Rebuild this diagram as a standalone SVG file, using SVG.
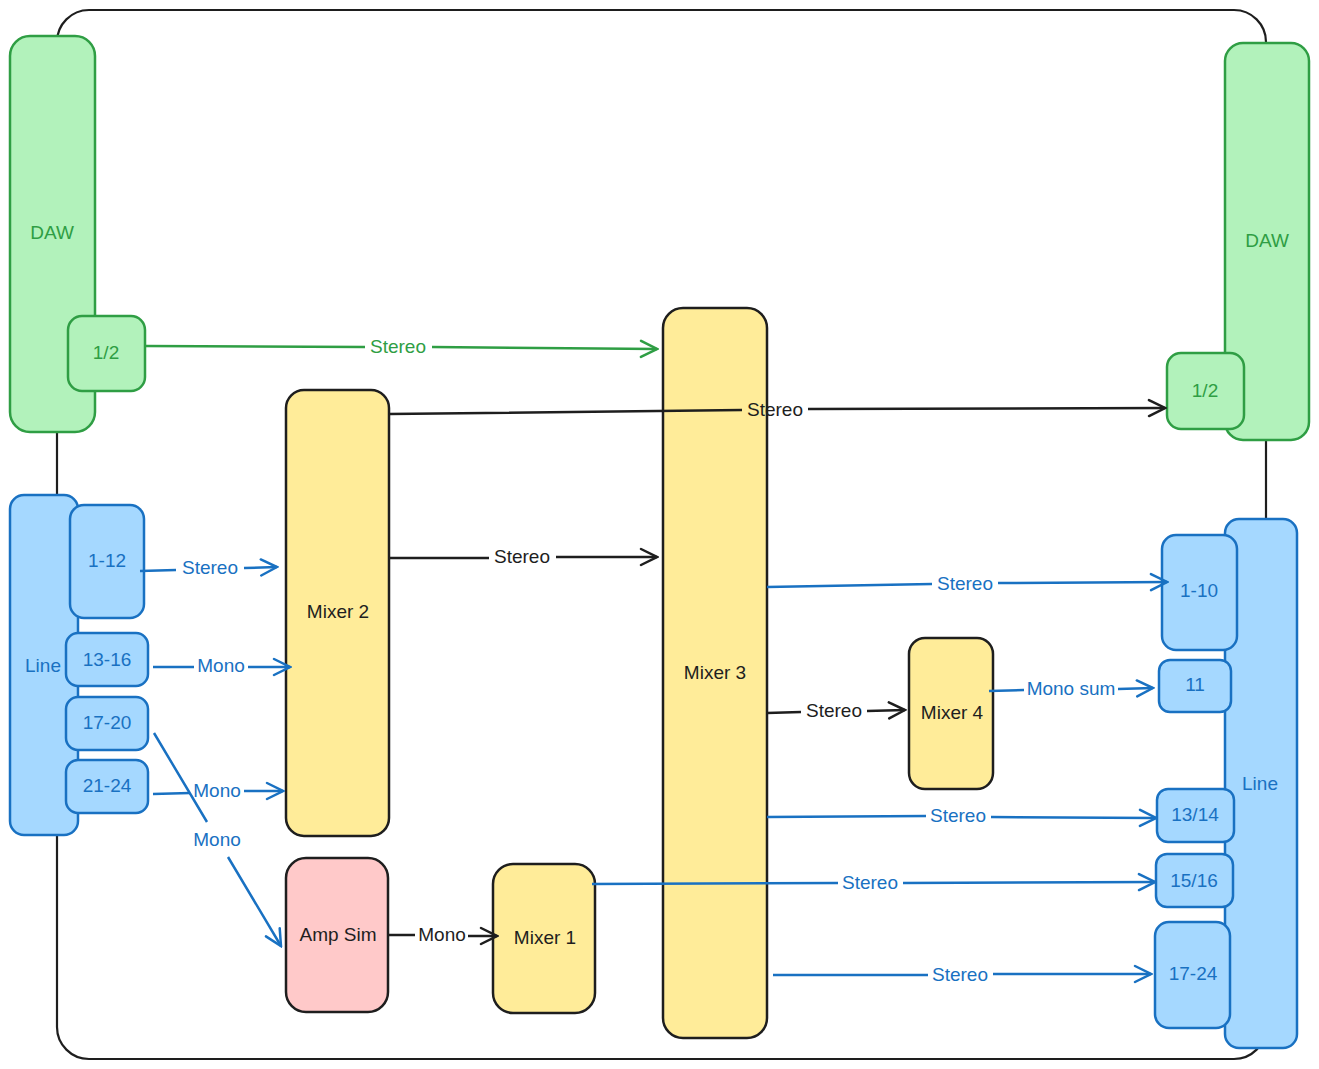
<svg xmlns="http://www.w3.org/2000/svg" width="1319" height="1069" viewBox="0 0 1319 1069">
<style>
text{font-family:"Liberation Sans","Noto Sans",sans-serif;font-size:19px;text-anchor:middle;dominant-baseline:central}
.g{fill:#b2f2bb;stroke:#2f9e44;stroke-width:2.5}
.b{fill:#a5d8ff;stroke:#1971c2;stroke-width:2.5}
.y{fill:#ffec99;stroke:#1e1e1e;stroke-width:2.5}
.r{fill:#ffc9c9;stroke:#1e1e1e;stroke-width:2.5}
.tg{fill:#2f9e44}.tb{fill:#1971c2}.tk{fill:#1e1e1e}
.cg{fill:none;stroke:#2f9e44;stroke-width:2.5;marker-end:url(#ag)}
.cb{fill:none;stroke:#1971c2;stroke-width:2.5;marker-end:url(#ab)}
.ck{fill:none;stroke:#1e1e1e;stroke-width:2.5;marker-end:url(#ak)}
</style>
<defs>
<marker id="ag" viewBox="-18 -11 20 22" markerWidth="20" markerHeight="22" refX="0" refY="0" orient="auto" markerUnits="userSpaceOnUse"><path d="M-16,-8 L0,0 L-16,8" fill="none" stroke="#2f9e44" stroke-width="2.5" stroke-linecap="round"/></marker>
<marker id="ab" viewBox="-18 -11 20 22" markerWidth="20" markerHeight="22" refX="0" refY="0" orient="auto" markerUnits="userSpaceOnUse"><path d="M-16,-8 L0,0 L-16,8" fill="none" stroke="#1971c2" stroke-width="2.5" stroke-linecap="round"/></marker>
<marker id="ak" viewBox="-18 -11 20 22" markerWidth="20" markerHeight="22" refX="0" refY="0" orient="auto" markerUnits="userSpaceOnUse"><path d="M-16,-8 L0,0 L-16,8" fill="none" stroke="#1e1e1e" stroke-width="2.5" stroke-linecap="round"/></marker>
</defs>
<rect width="1319" height="1069" fill="#ffffff"/>
<g id="frame"><rect x="57" y="10" width="1209" height="1049" rx="32" fill="none" stroke="#1e1e1e" stroke-width="2.2"/></g>

<g id="daw-left"><rect class="g" x="10" y="36" width="85" height="396" rx="20"/><text class="tg" x="52" y="232">DAW</text></g>
<g id="daw-left-12"><rect class="g" x="68" y="316" width="77" height="75" rx="14"/><text class="tg" x="106" y="352">1/2</text></g>
<g id="line-left"><rect class="b" x="10" y="495" width="68" height="340" rx="14"/><text class="tb" x="43" y="665">Line</text></g>
<g id="in-1-12"><rect class="b" x="70" y="505" width="74" height="113" rx="14"/><text class="tb" x="107" y="560">1-12</text></g>
<g id="in-13-16"><rect class="b" x="66" y="633" width="82" height="53" rx="12"/><text class="tb" x="107" y="659">13-16</text></g>
<g id="in-17-20"><rect class="b" x="66" y="697" width="82" height="53" rx="12"/><text class="tb" x="107" y="722">17-20</text></g>
<g id="in-21-24"><rect class="b" x="66" y="760" width="82" height="53" rx="12"/><text class="tb" x="107" y="785">21-24</text></g>

<g id="mixer2"><rect class="y" x="286" y="390" width="103" height="446" rx="18"/><text class="tk" x="338" y="611">Mixer 2</text></g>
<g id="ampsim"><rect class="r" x="286" y="858" width="102" height="154" rx="20"/><text class="tk" x="338" y="934">Amp Sim</text></g>
<g id="mixer1"><rect class="y" x="493" y="864" width="102" height="149" rx="20"/><text class="tk" x="545" y="937">Mixer 1</text></g>
<g id="mixer3"><rect class="y" x="663" y="308" width="104" height="730" rx="20"/><text class="tk" x="715" y="672">Mixer 3</text></g>
<g id="mixer4"><rect class="y" x="909" y="638" width="84" height="151" rx="16"/><text class="tk" x="952" y="712">Mixer 4</text></g>

<g id="daw-right"><rect class="g" x="1225" y="43" width="84" height="397" rx="18"/><text class="tg" x="1267" y="240">DAW</text></g>
<g id="daw-right-12"><rect class="g" x="1167" y="353" width="77" height="76" rx="14"/><text class="tg" x="1205" y="390">1/2</text></g>
<g id="line-right"><rect class="b" x="1225" y="519" width="72" height="529" rx="14"/><text class="tb" x="1260" y="783">Line</text></g>
<g id="out-1-10"><rect class="b" x="1162" y="535" width="75" height="115" rx="14"/><text class="tb" x="1199" y="590">1-10</text></g>
<g id="out-11"><rect class="b" x="1159" y="660" width="72" height="52" rx="11"/><text class="tb" x="1195" y="684">11</text></g>
<g id="out-13-14"><rect class="b" x="1157" y="789" width="77" height="53" rx="11"/><text class="tb" x="1195" y="814">13/14</text></g>
<g id="out-15-16"><rect class="b" x="1156" y="854" width="77" height="53" rx="11"/><text class="tb" x="1194" y="880">15/16</text></g>
<g id="out-17-24"><rect class="b" x="1155" y="922" width="75" height="106" rx="14"/><text class="tb" x="1193" y="973">17-24</text></g>

<g id="connectors">
<path class="cg" d="M145,346 L365,347 M432,347 L657,349"/><text class="tg" x="398" y="346">Stereo</text>
<path class="ck" d="M389,414 L742,410 M808,409 L1165,408"/><text class="tk" x="775" y="409">Stereo</text>
<path class="ck" d="M389,558 L489,558 M556,557 L657,557"/><text class="tk" x="522" y="556">Stereo</text>
<path class="cb" d="M140,571 L176,570 M244,568 L277,567"/><text class="tb" x="210" y="567">Stereo</text>
<path class="cb" d="M153,667 L194,667 M248,667 L290,667"/><text class="tb" x="221" y="665">Mono</text>
<path class="cb" d="M153,794 L190,793 M244,791 L283,791"/><text class="tb" x="217" y="790">Mono</text>
<path class="cb" d="M154,733 L207,822 M228,857 L281,946"/><text class="tb" x="217" y="839">Mono</text>
<path class="ck" d="M388,935 L415,935 M468,936 L497,936"/><text class="tk" x="442" y="934">Mono</text>
<path class="cb" d="M592,884 L838,883 M903,883 L1155,882"/><text class="tb" x="870" y="882">Stereo</text>
<path class="cb" d="M767,587 L932,584 M998,583 L1167,582"/><text class="tb" x="965" y="583">Stereo</text>
<path class="ck" d="M767,713 L801,712 M867,711 L905,710"/><text class="tk" x="834" y="710">Stereo</text>
<path class="cb" d="M989,691 L1024,690 M1118,689 L1153,688"/><text class="tb" x="1071" y="688">Mono sum</text>
<path class="cb" d="M767,817 L926,816 M991,817 L1156,818"/><text class="tb" x="958" y="815">Stereo</text>
<path class="cb" d="M773,975 L928,975 M993,974 L1151,974"/><text class="tb" x="960" y="974">Stereo</text>
</g>
</svg>
